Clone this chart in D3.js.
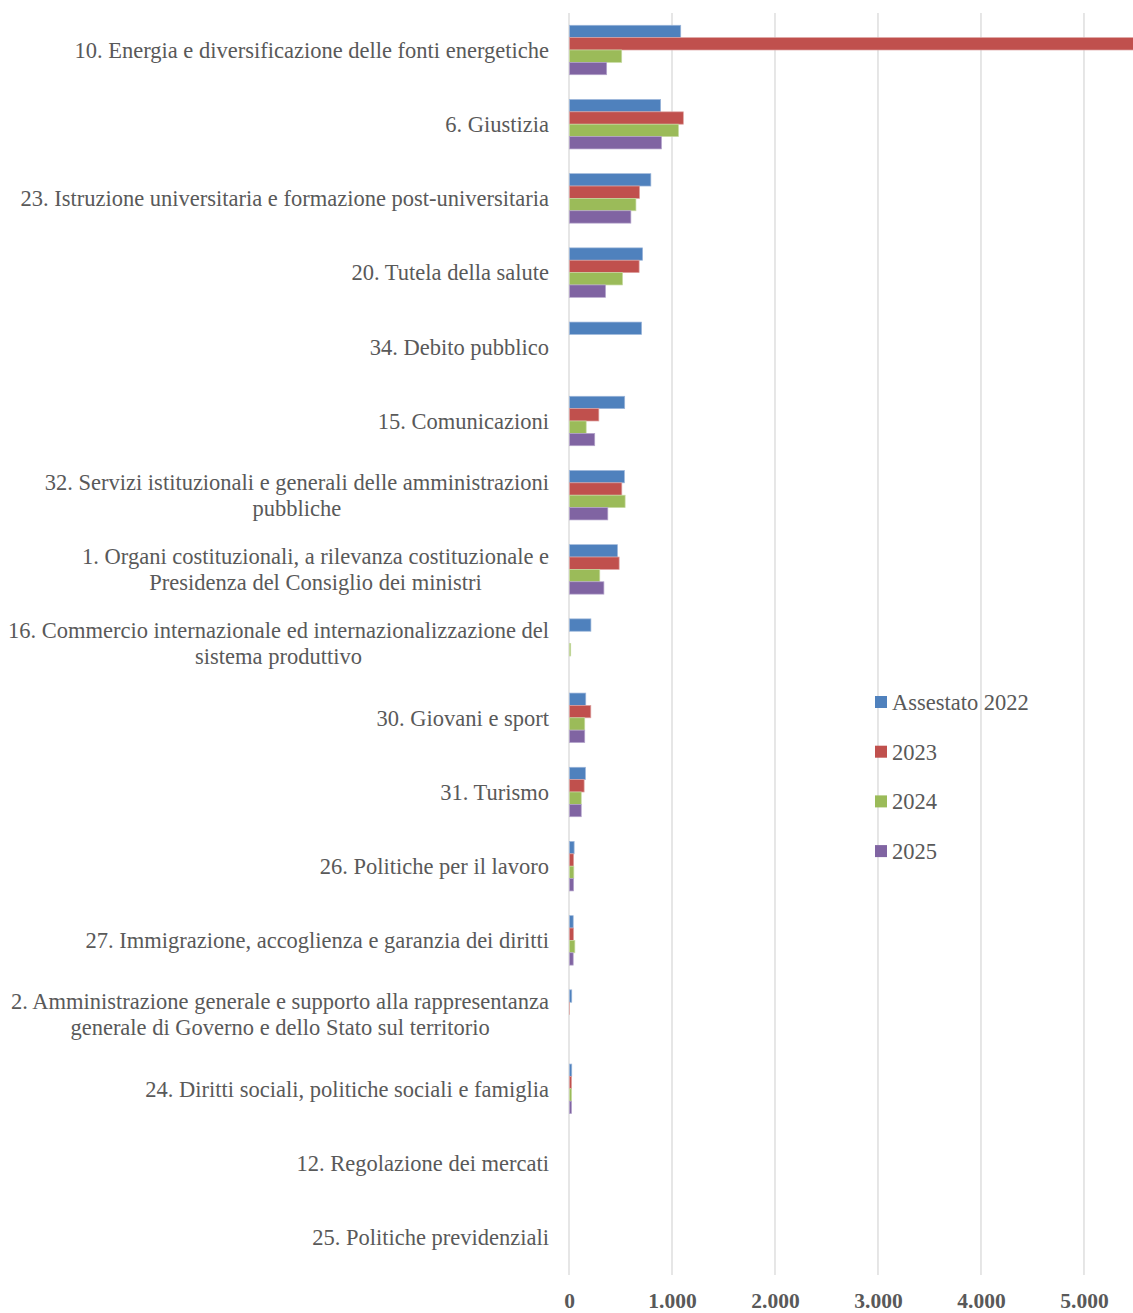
<!DOCTYPE html>
<html>
<head>
<meta charset="utf-8">
<script src="https://cdn.jsdelivr.net/npm/d3@7"></script>
<style>
  body { margin: 0; background: #fff; }
  svg { display: block; }
</style>
</head>
<body>
<script>
const categories = [
  "10. Energia e diversificazione delle fonti energetiche",
  "6. Giustizia",
  "23. Istruzione universitaria e formazione post-universitaria",
  "20. Tutela della salute",
  "34. Debito pubblico",
  "15. Comunicazioni",
  "32. Servizi istituzionali e generali delle amministrazioni\npubbliche",
  "1. Organi costituzionali, a rilevanza costituzionale e\nPresidenza del Consiglio dei ministri",
  "16. Commercio internazionale ed internazionalizzazione del\nsistema produttivo",
  "30. Giovani e sport",
  "31. Turismo",
  "26. Politiche per il lavoro",
  "27. Immigrazione, accoglienza e garanzia dei diritti",
  "2. Amministrazione generale e supporto alla rappresentanza\ngenerale di Governo e dello Stato sul territorio",
  "24. Diritti sociali, politiche sociali e famiglia",
  "12. Regolazione dei mercati",
  "25. Politiche previdenziali"
];
const seriesNames = ["Assestato 2022", "2023", "2024", "2025"];
const valuesAssestato2022 = [1080, 885, 790, 710, 700, 536, 533, 466, 208, 158, 155, 45, 36, 22, 22, 0, 0];
const values2023          = [5600, 1105, 680, 676, 0, 285, 508, 482, 0, 207, 142, 40, 39, 1, 20, 0, 0];
const values2024          = [507, 1058, 645, 515, 0, 162, 540, 294, 12, 148, 114, 42, 52, 0, 20, 0, 0];
const values2025          = [361, 893, 596, 350, 0, 245, 372, 334, 0, 148, 114, 40, 36, 0, 20, 0, 0];
const seriesValues = [valuesAssestato2022, values2023, values2024, values2025];
const colors = ["#4F81BD", "#C0504D", "#9BBB59", "#8064A2"];
const borders = ["#9DB7DA", "#DDA2A0", "#C7DAA2", "#B5A5CC"];
const tickValues = [0, 1000, 2000, 3000, 4000, 5000];

const W = 1133, H = 1313;
const FONT = "'Liberation Serif', 'Times New Roman', serif";
const svg = d3.select("body").append("svg").attr("width", W).attr("height", H);

const x = d3.scaleLinear().domain([0, 5476]).range([569, 1133]);
const y = d3.scaleBand().domain(categories).range([12.9, 1274.3]).paddingInner(1/3).paddingOuter(1/6);
const yInner = d3.scaleBand().domain(seriesNames).range([0, y.bandwidth()]);

const fmt = d3.formatLocale({decimal: ",", thousands: ".", grouping: [3], currency: ["€", ""]}).format(",d");

// gridlines
svg.append("g").selectAll("line").data(tickValues).join("line")
  .attr("x1", d => x(d)).attr("x2", d => x(d))
  .attr("y1", 13).attr("y2", 1275)
  .attr("stroke", "#D9D9D9").attr("stroke-width", 1.3);

// bars
svg.append("clipPath").attr("id", "plotclip").append("rect")
  .attr("x", 0).attr("y", 0).attr("width", W).attr("height", H);
const barsG = svg.append("g").attr("clip-path", "url(#plotclip)");
seriesNames.forEach((s, si) => {
  barsG.append("g").selectAll("rect")
    .data(categories.map((c, i) => ({c, v: seriesValues[si][i]})).filter(d => d.v > 0))
    .join("rect")
    .attr("x", x(0) + 0.5)
    .attr("y", d => y(d.c) + yInner(s))
    .attr("width", d => Math.max(0, x(d.v) - x(0)))
    .attr("height", yInner.bandwidth())
    .attr("fill", colors[si])
    .attr("stroke", borders[si])
    .attr("stroke-width", 0.7);
});

// category labels
const labelG = svg.append("g")
  .attr("font-family", FONT)
  .attr("font-size", 22.5).attr("fill", "#595959");
categories.forEach(c => {
  const lines = c.split("\n");
  const cy = y(c) + y.bandwidth() / 2;
  const lh = 26;
  const texts = lines.map((ln, li) => labelG.append("text")
      .attr("x", 549)
      .attr("y", cy + (li - (lines.length - 1) / 2) * lh)
      .attr("dy", "0.35em")
      .attr("text-anchor", "end")
      .text(ln));
  if (lines.length > 1) {
    const maxW = Math.max(...texts.map(t => t.node().getComputedTextLength()));
    const cx = 549 - maxW / 2;
    texts.forEach(t => t.attr("x", cx).attr("text-anchor", "middle"));
  }
});

// x axis labels
const axisG = svg.append("g").attr("transform", "translate(0,1300)");
axisG.call(d3.axisBottom(x).tickValues(tickValues).tickFormat(fmt).tickSize(0).tickPadding(0));
axisG.select(".domain").remove();
axisG.selectAll("text")
  .attr("font-family", FONT)
  .attr("font-size", 21.5).attr("font-weight", "bold").attr("fill", "#595959")
  .attr("dy", "0.35em").attr("y", 0);

// legend
const leg = svg.append("g")
  .attr("font-family", FONT)
  .attr("font-size", 22.5).attr("fill", "#595959");
seriesNames.forEach((s, i) => {
  const ly = 702 + i * 49.7;
  leg.append("rect").attr("x", 875).attr("y", ly - 6).attr("width", 12).attr("height", 12).attr("fill", colors[i]);
  leg.append("text").attr("x", 892).attr("y", ly).attr("dy", "0.35em").text(s);
});
</script>
</body>
</html>
